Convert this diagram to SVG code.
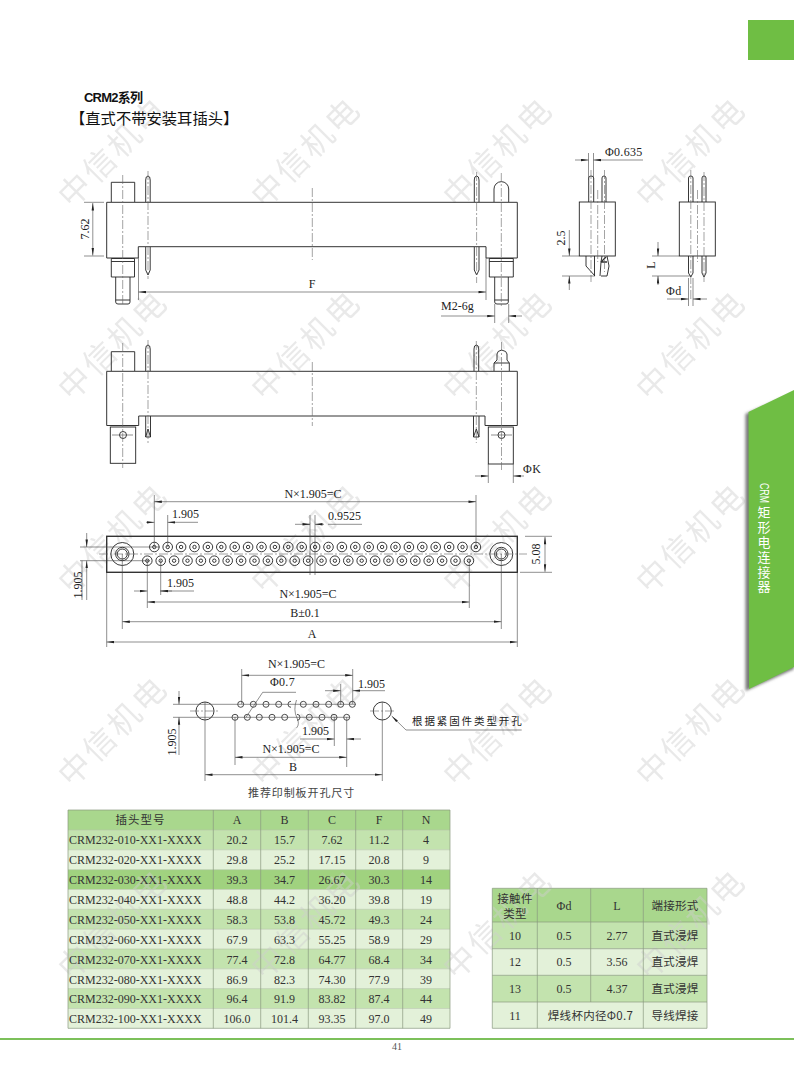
<svg xmlns="http://www.w3.org/2000/svg" width="794" height="1077" viewBox="0 0 794 1077">
<style>
text{font-family:"Liberation Serif","Noto Sans CJK SC",serif;font-size:12px;fill:#222}
.cjk{font-family:"Noto Sans CJK SC","Liberation Sans",sans-serif}
.m{text-anchor:middle}
.o{fill:none;stroke:#222;stroke-width:.9}
.h{fill:none;stroke:#333;stroke-width:1.4}
.c{fill:none;stroke:#666;stroke-width:.6;stroke-dasharray:9 2 2 2}
.d{fill:none;stroke:#444;stroke-width:.6}
.a{fill:none;stroke:#444;stroke-width:.6;marker-end:url(#ar)}
.b{fill:none;stroke:#444;stroke-width:.6;marker-start:url(#ar);marker-end:url(#ar)}
.wm{font-family:"Noto Sans CJK SC",sans-serif;font-size:32px;letter-spacing:3px;fill:#cfcfcf;opacity:.45;text-anchor:middle}
.g{stroke:#8a9a80;stroke-width:.7;fill:none}
.lg{stroke:#b5c4aa;stroke-width:.6;fill:none}
.t{font-size:12px;text-anchor:middle;fill:#333}
.z{font-size:11.5px;text-anchor:middle;fill:#333;letter-spacing:.3px}
</style>
<defs>
<marker id="ar" viewBox="0 0 10 4" refX="10" refY="2" markerUnits="userSpaceOnUse" markerWidth="8" markerHeight="3" orient="auto-start-reverse"><path d="M0,0.4L10,2L0,3.6z" fill="#222"/></marker>
<filter id="bl" x="-20%" y="-5%" width="140%" height="110%"><feGaussianBlur stdDeviation="1.5"/></filter>
<g id="pin"><circle r="4.8" class="o"/><circle r="1.7" class="o"/></g>
<g id="row">
<use href="#pin" x="0"/><use href="#pin" x="13.4"/><use href="#pin" x="26.8"/><use href="#pin" x="40.2"/><use href="#pin" x="53.6"/><use href="#pin" x="67"/><use href="#pin" x="80.4"/><use href="#pin" x="93.8"/><use href="#pin" x="107.2"/><use href="#pin" x="120.6"/><use href="#pin" x="134"/><use href="#pin" x="147.4"/><use href="#pin" x="160.8"/><use href="#pin" x="174.2"/><use href="#pin" x="187.6"/><use href="#pin" x="201"/><use href="#pin" x="214.4"/><use href="#pin" x="227.8"/><use href="#pin" x="241.2"/><use href="#pin" x="254.6"/><use href="#pin" x="268"/><use href="#pin" x="281.4"/><use href="#pin" x="294.8"/><use href="#pin" x="308.2"/><use href="#pin" x="321.6"/>
</g>
</defs>
<rect width="794" height="1077" fill="#fff"/>

<g id="page-marks">
<rect x="748" y="20" width="46" height="40" fill="#6fbe44"/>
<rect x="0" y="1038" width="794" height="2" fill="#7cc05a"/>
<text x="397" y="1050" class="m" style="font-size:10px;fill:#555">41</text>
</g>

<g id="table-fills">
<rect x="68" y="810" width="382" height="20" fill="#a9d78d"/>
<rect x="68" y="830" width="382" height="19.8" fill="#c3e3ae"/>
<rect x="68" y="849.8" width="382" height="19.9" fill="#e3f1d9"/>
<rect x="68" y="869.7" width="382" height="19.8" fill="#a0d27f"/>
<rect x="68" y="889.5" width="382" height="19.8" fill="#e3f1d9"/>
<rect x="68" y="909.3" width="382" height="19.9" fill="#c3e3ae"/>
<rect x="68" y="929.2" width="382" height="19.8" fill="#e3f1d9"/>
<rect x="68" y="949" width="382" height="19.8" fill="#c3e3ae"/>
<rect x="68" y="968.8" width="382" height="19.8" fill="#e3f1d9"/>
<rect x="68" y="988.6" width="382" height="19.9" fill="#c3e3ae"/>
<rect x="68" y="1008.5" width="382" height="19.8" fill="#e3f1d9"/>
<rect x="492.3" y="888.3" width="214.7" height="33.7" fill="#a9d78d"/>
<rect x="492.3" y="922" width="214.7" height="26.7" fill="#c3e3ae"/>
<rect x="492.3" y="948.7" width="214.7" height="26.6" fill="#e3f1d9"/>
<rect x="492.3" y="975.3" width="214.7" height="26.7" fill="#c3e3ae"/>
<rect x="492.3" y="1002" width="214.7" height="26.3" fill="#e3f1d9"/>
</g>

<g id="watermark">
<text class="wm" transform="translate(121,160) rotate(-45)">中信机电</text>
<text class="wm" transform="translate(314,160) rotate(-45)">中信机电</text>
<text class="wm" transform="translate(506,160) rotate(-45)">中信机电</text>
<text class="wm" transform="translate(699,160) rotate(-45)">中信机电</text>
<text class="wm" transform="translate(121,353) rotate(-45)">中信机电</text>
<text class="wm" transform="translate(314,353) rotate(-45)">中信机电</text>
<text class="wm" transform="translate(506,353) rotate(-45)">中信机电</text>
<text class="wm" transform="translate(699,353) rotate(-45)">中信机电</text>
<text class="wm" transform="translate(121,546) rotate(-45)">中信机电</text>
<text class="wm" transform="translate(314,546) rotate(-45)">中信机电</text>
<text class="wm" transform="translate(506,546) rotate(-45)">中信机电</text>
<text class="wm" transform="translate(699,546) rotate(-45)">中信机电</text>
<text class="wm" transform="translate(121,739) rotate(-45)">中信机电</text>
<text class="wm" transform="translate(314,739) rotate(-45)">中信机电</text>
<text class="wm" transform="translate(506,739) rotate(-45)">中信机电</text>
<text class="wm" transform="translate(699,739) rotate(-45)">中信机电</text>
<text class="wm" transform="translate(121,932) rotate(-45)">中信机电</text>
<text class="wm" transform="translate(314,932) rotate(-45)">中信机电</text>
<text class="wm" transform="translate(506,932) rotate(-45)">中信机电</text>
<text class="wm" transform="translate(699,932) rotate(-45)">中信机电</text>
</g>

<g id="side-tab">
<path d="M745.5,414L794,393V669L745.5,691Z" fill="#777" filter="url(#bl)"/>
<path d="M748.5,412L794,390V667L749,689Z" fill="#6fbe44"/>
<text transform="translate(759.5,483) rotate(90)" style="font-size:13px;fill:#fff;font-family:'Liberation Sans',sans-serif" textLength="20" lengthAdjust="spacingAndGlyphs">CRM</text>
<text x="764 764 764 764 764 764" y="516.5 531.5 546.5 561.5 576.5 590.5" class="cjk m" style="font-size:13px;fill:#fff">矩形电连接器</text>
</g>

<g id="title">
<text x="84" y="102" style="font-family:'Liberation Sans','Noto Sans CJK SC',sans-serif;font-size:13px;font-weight:bold;fill:#111" textLength="59">CRM2系列</text>
<text x="70" y="124" class="cjk" style="font-size:15.3px;fill:#111">【直式不带安装耳插头】</text>
</g>

<g id="view-front-top">
<path class="o" d="M111.3,202V182.3H134.7V202"/>
<path class="o" d="M145.7,202V180Q145.7,176 148,176Q150.2,176 150.2,180V202M145.7,247V270L148,275L150.2,270V247"/>
<path class="o" d="M474.3,202V180Q474.3,176 476.6,176Q479,176 479,180V202M474.3,247V270L476.6,275L479,270V247"/>
<path class="o" d="M494,202V189A7.3,7.3 0 0 1 508.7,189V202"/>
<path class="h" d="M106.7,202.3H517.3V258H486V246.7H138.3V258H106.7Z" style="stroke-width:1"/>
<path class="o" d="M111.3,258.5H134.5V277H111.3ZM111.3,261.5H134.5"/>
<path class="o" d="M115.7,277V302Q115.7,304 118,304H128Q130,304 130,302V277M115.7,300H130"/>
<path class="o" d="M489.3,258.5H513.3V277H489.3ZM489.3,261.5H513.3"/>
<path class="o" d="M494.7,277V302Q494.7,304 497,304H506Q508.3,304 508.3,302V277M494.7,300H508.3"/>
<path class="c" d="M122.7,175V306M148,171V279M312.3,188V260M476.6,172V283M501.3,173V306"/>
</g>
<g id="dims-front-top">
<path class="d" d="M104,202.3H84M104,256H84M138.5,258V300M486,258V300M494.7,304V323M508.7,304V323"/>
<path class="b" d="M92.8,203V255.5"/>
<path class="b" d="M138.5,292H486"/>
<path class="a" d="M441,316H494.7"/>
<path class="a" d="M522,316H508.7"/>
<text transform="translate(89,229) rotate(-90)" class="m">7.62</text>
<text x="312" y="288" class="m">F</text>
<text x="441" y="310">M2-6g</text>
</g>

<g id="view-side-a">
<rect class="o" x="579.3" y="202" width="36" height="54"/>
<path class="o" d="M588.7,202V178Q588.7,176 591,176Q593.7,176 593.7,178V202M602,202V178Q602,176 604,176Q606,176 606,178V202"/>
<path class="o" d="M586,256V266L595,276M594.5,256V276M600,276L601,262L602,256M601,276H607L609,266L607,256"/>
<path class="h" d="M601,262L606,257M601,262H607"/>
<path class="c" d="M591,170V282M604.5,170V272M597.7,190V262"/>
</g>
<g id="dims-side-a">
<path class="d" d="M588.5,153V180M593.5,153V180M562,256H579M562,276H595"/>
<path class="a" d="M575,160H588.5"/>
<path class="a" d="M643,160H593.5"/>
<path class="a" d="M569.3,230V256"/>
<path class="a" d="M569.3,290V276"/>
<text x="605" y="156" style="letter-spacing:.3px">Φ0.635</text>
<text transform="translate(565,238) rotate(-90)" class="m">2.5</text>
</g>

<g id="view-side-b">
<rect class="o" x="679.3" y="202" width="36" height="54"/>
<path class="o" d="M688.5,202V178Q688.5,176 690.8,176Q693,176 693,178V202M702,202V178Q702,176 704,176Q706,176 706,178V202"/>
<path class="o" d="M688.5,256V273L690.8,277L693,273V256M702,256V273L704,277L706,273V256"/>
<path class="c" d="M690.8,170V300M704,172V282M697.5,190V262"/>
</g>
<g id="dims-side-b">
<path class="d" d="M652,256H679M652,276H691M688.5,278V306M693,278V306"/>
<path class="a" d="M658,242V256"/>
<path class="a" d="M658,285V276"/>
<path class="a" d="M667,299H688.5"/>
<path class="a" d="M707,299H693"/>
<text transform="translate(655,265) rotate(-90)" class="m">L</text>
<text x="666" y="295" style="letter-spacing:.5px">Φd</text>
</g>

<g id="view-front-bottom">
<path class="o" d="M111.3,371V351.7H134.7V371"/>
<path class="o" d="M145.7,371V349Q145.7,345 148,345Q150.2,345 150.2,349V371M145.7,416V437H150.5V416M145.7,437L148,429L150.5,437"/>
<path class="o" d="M474,371V349Q474,345 476.3,345Q478.7,345 478.7,349V371M473.5,416V437H479V416M473.5,437L476.3,429L479,437"/>
<path class="o" d="M494,371V363L497,360V354Q497,351 501.6,350Q507,351 507,354V360L509.3,363V371M494,363H509.3"/>
<path class="h" d="M106.7,371.3H517.3V425.5H485V416H138.7V425.5H106.7Z" style="stroke-width:1"/>
<rect class="o" x="110.3" y="427" width="25.4" height="36.3"/>
<rect class="o" x="488.3" y="427" width="25" height="37"/>
<circle class="o" cx="123" cy="435" r="3.5"/>
<circle class="o" cx="501.5" cy="435" r="3.5"/>
<path class="d" d="M112,435H133M491,435H512"/>
<path class="c" d="M122.7,343V468M148,340V443M312.3,362V426M476.3,341V443M501.5,342V470"/>
</g>
<g id="dims-front-bottom">
<path class="d" d="M488.3,464V483M513.3,464V483"/>
<path class="a" d="M475,476H488.3"/>
<path class="a" d="M524,476H513.3"/>
<text x="523" y="473" style="letter-spacing:.5px">ΦK</text>
</g>

<g id="view-plate">
<rect class="h" x="106.7" y="536.3" width="410.6" height="36"/>
<circle class="o" cx="122.3" cy="554" r="11.5"/><circle class="o" cx="122.3" cy="554" r="6.7"/><circle class="o" cx="122.3" cy="554" r="5"/>
<circle class="o" cx="501.3" cy="554" r="11.5"/><circle class="o" cx="501.3" cy="554" r="6.7"/><circle class="o" cx="501.3" cy="554" r="5"/>
<use href="#row" x="154.3" y="547"/>
<use href="#row" x="147.3" y="560.7"/>
<path class="c" d="M99,554H527"/>
</g>
<g id="dims-plate">
<path class="d" d="M154.3,495V547M476,495V547M167.7,515V547M147.3,560V608M160.7,560V595M469.3,560V608M122.3,554V629M501.3,554V629M106.7,572V647M517.3,572V647M80,547H160M80,560.7H150M310,515V575M315,515V575M525,536.3H552M520,572.3H552M295,524.3H310"/>
<path class="d" d="M177,522.3H198M328,524.3H362M160,591H194M82,560.7V600"/>
<path class="b" d="M154.3,501.7H476"/>
<path class="a" d="M146,522.3H154.3"/><path class="a" d="M177,522.3H167.7"/>
<path class="a" d="M303,524.3H310"/><path class="a" d="M324,524.3H315"/>
<path class="a" d="M134,591H147.3"/><path class="a" d="M172,591H160.7"/>
<path class="b" d="M147.3,602H469.3"/>
<path class="b" d="M122.3,621.7H501.3"/>
<path class="b" d="M106.7,642H517.3"/>
<path class="a" d="M86.7,533V547"/>
<path class="a" d="M86.7,600V560.7"/>
<path class="b" d="M545,536.8V571.8"/>
<text x="313" y="498" class="m">N×1.905=C</text>
<text x="172" y="518">1.905</text>
<text x="328" y="520">0.9525</text>
<text x="167" y="587">1.905</text>
<text x="308" y="598" class="m">N×1.905=C</text>
<text x="305" y="617" class="m">B±0.1</text>
<text x="312" y="638" class="m">A</text>
<text transform="translate(82,585) rotate(-90)" class="m">1.905</text>
<text transform="translate(540,554) rotate(-90)" class="m">5.08</text>
</g>

<g id="view-pcb">
<circle class="o" cx="205" cy="711" r="9"/>
<circle class="o" cx="382.3" cy="711" r="9"/>
<g fill="none" stroke="#222" stroke-width=".8">
<circle cx="240.7" cy="704.3" r="3"/><circle cx="253.3" cy="704.3" r="3"/><circle cx="266" cy="704.3" r="3"/><circle cx="278.7" cy="704.3" r="3"/><path d="M291,701.3A3,3 0 0 0 291,707.3"/><circle cx="303.3" cy="704.3" r="3"/><circle cx="316" cy="704.3" r="3"/><circle cx="328.7" cy="704.3" r="3"/><circle cx="340.7" cy="704.3" r="3"/><circle cx="352.3" cy="704.3" r="3"/>
<circle cx="235" cy="717.3" r="3"/><circle cx="247.3" cy="717.3" r="3"/><circle cx="259.3" cy="717.3" r="3"/><circle cx="272" cy="717.3" r="3"/><circle cx="284.7" cy="717.3" r="3"/><path d="M297,714.3A3,3 0 0 1 297,720.3"/><circle cx="309.3" cy="717.3" r="3"/><circle cx="322" cy="717.3" r="3"/><circle cx="334" cy="717.3" r="3"/><circle cx="346.7" cy="717.3" r="3"/>
</g>
<path class="d" d="M173,704.3H356M173,717.3H350"/>
<path class="c" d="M190,711H218M370,711H395"/>
<path class="d" d="M205,702V720M382.3,702V720M296.5,700Q293,710 297,718Q300,724 296.5,728"/>
</g>
<g id="dims-pcb">
<path class="d" d="M241.7,669V704M352.7,669V704M340.7,684V705M334.3,717V746M346.7,717V767M235,717V765M205,720V781M382.3,720V781"/>
<path class="b" d="M241.7,675.3H352.7"/>
<path class="a" d="M325,690.7H340.7"/><path class="a" d="M385,690.7H352.7"/>
<path class="a" d="M300,739H334.3"/><path class="a" d="M361,739H346.7"/>
<path class="b" d="M235,757.3H346.7"/>
<path class="b" d="M205,774.7H382.3"/>
<path class="a" d="M179,691V704.3"/><path class="a" d="M179,755V717.3"/>
<path class="d" d="M296,692.3H262.7L246,717.3"/>
<path class="d" d="M521.7,730H406L391.7,716" marker-end="url(#ar)"/>
<text x="296.5" y="668" class="m">N×1.905=C</text>
<text x="270" y="686" style="letter-spacing:.3px">Φ0.7</text>
<text x="358" y="688">1.905</text>
<text x="302" y="735">1.905</text>
<text x="291" y="753" class="m">N×1.905=C</text>
<text x="293" y="771" class="m">B</text>
<text transform="translate(176,742) rotate(-90)" class="m">1.905</text>
<text x="412" y="725" class="cjk" style="font-size:10.5px;letter-spacing:1.9px">根据紧固件类型开孔</text>
<text x="248" y="797" class="cjk" style="font-size:11px;letter-spacing:.9px;fill:#444">推荐印制板开孔尺寸</text>
</g>

<g id="table-parts">
<path class="lg" d="M68,830H450M68,849.8H450M68,869.7H450M68,889.5H450M68,909.3H450M68,929.2H450M68,949H450M68,968.8H450M68,988.6H450M68,1008.5H450"/>
<path class="g" d="M68,810H450V1028.3H68ZM213.3,810V1028.3M260.7,810V1028.3M308.3,810V1028.3M355.7,810V1028.3M402.7,810V1028.3"/>
<text x="140.5" y="824" class="z cjk" style="letter-spacing:1px">插头型号</text><text x="237" y="824" class="t">A</text><text x="284.5" y="824" class="t">B</text><text x="332" y="824" class="t">C</text><text x="379" y="824" class="t">F</text><text x="426" y="824" class="t">N</text>
<text x="69" y="844" style="fill:#333">CRM232-010-XX1-XXXX</text><text x="237" y="844" class="t">20.2</text><text x="284.5" y="844" class="t">15.7</text><text x="332" y="844" class="t">7.62</text><text x="379" y="844" class="t">11.2</text><text x="426" y="844" class="t">4</text>
<text x="69" y="864" style="fill:#333">CRM232-020-XX1-XXXX</text><text x="237" y="864" class="t">29.8</text><text x="284.5" y="864" class="t">25.2</text><text x="332" y="864" class="t">17.15</text><text x="379" y="864" class="t">20.8</text><text x="426" y="864" class="t">9</text>
<text x="69" y="884" style="fill:#333">CRM232-030-XX1-XXXX</text><text x="237" y="884" class="t">39.3</text><text x="284.5" y="884" class="t">34.7</text><text x="332" y="884" class="t">26.67</text><text x="379" y="884" class="t">30.3</text><text x="426" y="884" class="t">14</text>
<text x="69" y="904" style="fill:#333">CRM232-040-XX1-XXXX</text><text x="237" y="904" class="t">48.8</text><text x="284.5" y="904" class="t">44.2</text><text x="332" y="904" class="t">36.20</text><text x="379" y="904" class="t">39.8</text><text x="426" y="904" class="t">19</text>
<text x="69" y="924" style="fill:#333">CRM232-050-XX1-XXXX</text><text x="237" y="924" class="t">58.3</text><text x="284.5" y="924" class="t">53.8</text><text x="332" y="924" class="t">45.72</text><text x="379" y="924" class="t">49.3</text><text x="426" y="924" class="t">24</text>
<text x="69" y="943.5" style="fill:#333">CRM232-060-XX1-XXXX</text><text x="237" y="943.5" class="t">67.9</text><text x="284.5" y="943.5" class="t">63.3</text><text x="332" y="943.5" class="t">55.25</text><text x="379" y="943.5" class="t">58.9</text><text x="426" y="943.5" class="t">29</text>
<text x="69" y="963.5" style="fill:#333">CRM232-070-XX1-XXXX</text><text x="237" y="963.5" class="t">77.4</text><text x="284.5" y="963.5" class="t">72.8</text><text x="332" y="963.5" class="t">64.77</text><text x="379" y="963.5" class="t">68.4</text><text x="426" y="963.5" class="t">34</text>
<text x="69" y="983.5" style="fill:#333">CRM232-080-XX1-XXXX</text><text x="237" y="983.5" class="t">86.9</text><text x="284.5" y="983.5" class="t">82.3</text><text x="332" y="983.5" class="t">74.30</text><text x="379" y="983.5" class="t">77.9</text><text x="426" y="983.5" class="t">39</text>
<text x="69" y="1003" style="fill:#333">CRM232-090-XX1-XXXX</text><text x="237" y="1003" class="t">96.4</text><text x="284.5" y="1003" class="t">91.9</text><text x="332" y="1003" class="t">83.82</text><text x="379" y="1003" class="t">87.4</text><text x="426" y="1003" class="t">44</text>
<text x="69" y="1023" style="fill:#333">CRM232-100-XX1-XXXX</text><text x="237" y="1023" class="t">106.0</text><text x="284.5" y="1023" class="t">101.4</text><text x="332" y="1023" class="t">93.35</text><text x="379" y="1023" class="t">97.0</text><text x="426" y="1023" class="t">49</text>
</g>

<g id="table-contacts">
<path class="g" d="M492.3,888.3H707V1028.3H492.3ZM537.3,888.3V1028.3M590.7,888.3V1002M643.3,888.3V1028.3M492.3,922H707M492.3,948.7H707M492.3,975.3H707M492.3,1002H707"/>
<text x="515" y="903" class="z cjk">接触件</text><text x="515" y="918" class="z cjk">类型</text>
<text x="564" y="910" class="t">Φd</text><text x="617" y="910" class="t">L</text><text x="675" y="910" class="z cjk">端接形式</text>
<text x="515" y="940" class="t">10</text><text x="564" y="940" class="t">0.5</text><text x="617" y="940" class="t">2.77</text><text x="675" y="940" class="z cjk">直式浸焊</text>
<text x="515" y="966" class="t">12</text><text x="564" y="966" class="t">0.5</text><text x="617" y="966" class="t">3.56</text><text x="675" y="966" class="z cjk">直式浸焊</text>
<text x="515" y="993" class="t">13</text><text x="564" y="993" class="t">0.5</text><text x="617" y="993" class="t">4.37</text><text x="675" y="993" class="z cjk">直式浸焊</text>
<text x="515" y="1020" class="t">11</text><text x="590.5" y="1020" class="z cjk">焊线杯内径Φ0.7</text><text x="675" y="1020" class="z cjk">导线焊接</text>
</g>
</svg>
